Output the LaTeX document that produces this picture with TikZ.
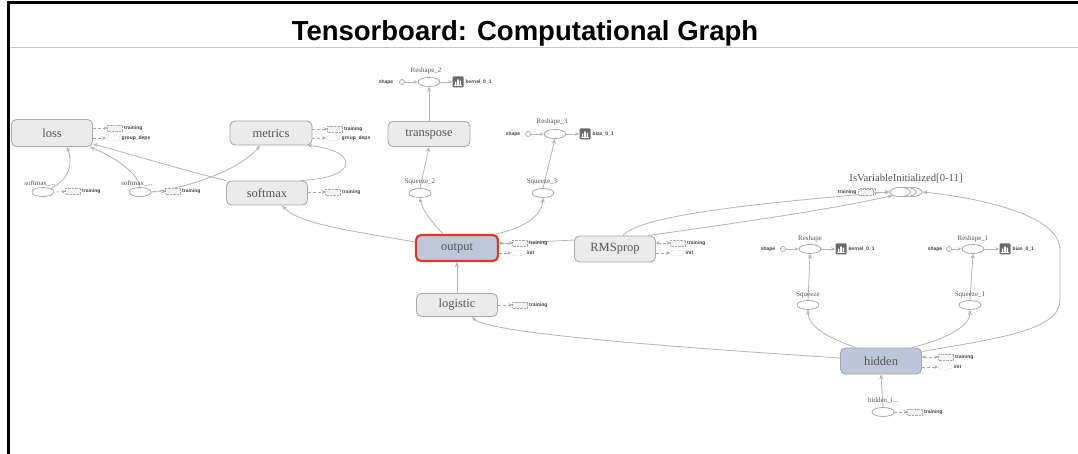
\documentclass[tikz,border=0pt]{standalone}
\usepackage{fontspec}
\setmainfont{Liberation Serif}
\newfontfamily\titlefont{Liberation Sans}
\newfontfamily\smallsans{Liberation Sans}
\usetikzlibrary{shapes.geometric,arrows.meta}
\pgfdeclarelayer{bg}
\pgfdeclarelayer{paper}
\pgfsetlayers{paper,bg,main}
\definecolor{nodefill}{HTML}{EBEBEB}
\definecolor{nodedraw}{HTML}{A9A9A9}
\definecolor{selfill}{HTML}{BFC7DB}
\definecolor{selred}{HTML}{E3372A}
\definecolor{hidfill}{HTML}{BFC6DB}
\definecolor{hiddraw}{HTML}{9CA3B5}
\definecolor{edgecol}{HTML}{B5B5B5}
\definecolor{textcol}{HTML}{555555}
\definecolor{iconcol}{HTML}{6A6A6A}
\begin{document}
\begin{tikzpicture}[x=1pt,y=-1pt,
  op/.style={draw=nodedraw, fill=nodefill, rounded corners=5pt, line width=0.9pt,
    minimum width=81pt, minimum height=25pt, inner sep=0pt, text=textcol,
    font=\fontsize{12.5}{13}\selectfont},
  sel/.style={fill=selfill, draw=selred, line width=2.2pt},
  hid/.style={fill=hidfill, draw=hiddraw},
  el/.style={ellipse, draw=nodedraw, fill=white, line width=0.8pt, minimum width=22pt, minimum height=9pt, inner sep=0pt},
  sc/.style={circle, draw=nodedraw, fill=white, line width=0.7pt, minimum size=5pt, inner sep=0pt},
  lab/.style={text=textcol, font=\fontsize{7}{7}\selectfont, inner sep=0.5pt},
  tinytxt/.style={text=black!75, font=\smallsans\bfseries\fontsize{5}{5}\selectfont, inner sep=0.5pt},
  dbox/.style={draw=nodedraw, densely dotted, fill=nodefill!60, minimum width=15pt, minimum height=6pt, inner sep=0pt},
  dell/.style={ellipse, draw=nodedraw, densely dotted, fill=white, minimum width=14pt, minimum height=6pt, inner sep=0pt},
  icon/.style={fill=iconcol, rounded corners=1pt, minimum size=11pt, inner sep=0pt,
    path picture={
      \fill[white] ([shift={(-3.2pt,-3.5pt)}]path picture bounding box.center) rectangle ++(1.6pt,4pt);
      \fill[white] ([shift={(-0.8pt,-3.5pt)}]path picture bounding box.center) rectangle ++(1.6pt,6.5pt);
      \fill[white] ([shift={(1.6pt,-3.5pt)}]path picture bounding box.center) rectangle ++(1.6pt,5pt);
      \draw[white, line width=0.5pt] ([shift={(-4pt,-3.7pt)}]path picture bounding box.center) -- ++(8pt,0pt);}},
  edge/.style={draw=edgecol, line width=0.8pt, -{Stealth[length=5pt,width=4pt]}},
  plain/.style={draw=edgecol, line width=0.8pt},
  aux/.style={draw=nodedraw, line width=0.5pt, densely dashed, -{Stealth[length=3.5pt,width=3.5pt]}},
  auxb/.style={draw=nodedraw, line width=0.5pt, densely dashed, {Stealth[length=3.5pt,width=3.5pt]}-{Stealth[length=3.5pt,width=3.5pt]}},
  small/.style={draw=edgecol, line width=0.7pt, -{Stealth[length=4pt,width=3.5pt]}}
]
\useasboundingbox (0,0) rectangle (1078,454);
\begin{pgfonlayer}{paper}
\fill[white] (0,0) rectangle (1078,454);
\end{pgfonlayer}
% frame
\draw[black, line width=3pt] (8,454) -- (8,3) -- (1078,3);
\draw[gray!45, line width=1pt] (9.5,48) -- (1078,48);
\node[font=\titlefont\bfseries\fontsize{27.5}{28}\selectfont] (title) at (525,33) {Tensorboard: Computational Graph};

% main operation nodes
\node[op, minimum height=27pt] (loss) at (52,133) {loss};
\node[op, minimum width=82pt, minimum height=24pt] (metrics) at (271,133) {metrics};
\node[op, minimum width=82pt] (transpose) at (429,134) {transpose};
\node[op, minimum height=24pt] (softmax) at (267,193) {softmax};
\node[op, sel, minimum width=82pt, minimum height=26pt] (output) at (457,248) {output};
\node[op, minimum height=26pt] (rmsprop) at (615,249) {RMSprop};
\node[op, minimum height=23pt] (logistic) at (457,305) {logistic};
\node[op, hid, minimum height=26pt] (hidden) at (881,361) {hidden};

% small ellipse ops
\node[el] (sm1) at (43,192) {};
\node[lab] (sm1l) at (40,183) {softmax\_...};
\node[el] (sm2) at (140,192) {};
\node[lab] (sm2l) at (137,183) {softmax\_...};
\node[el] (sq2) at (420,193) {};
\node[lab] (sq2l) at (420,182) {Squeeze\_2};
\node[el] (sq3) at (543,193) {};
\node[lab] (sq3l) at (542,182) {Squeeze\_3};
\node[el] (sq) at (808,305) {};
\node[lab] (sql) at (808,295) {Squeeze};
\node[el] (sq1) at (970,305) {};
\node[lab] (sq1l) at (970,295) {Squeeze\_1};
\node[el] (hi) at (883,412) {};
\node[lab] (hil) at (883,401) {hidden\_i...};

% Reshape_2
\node[el] (r2e) at (429,82) {};
\node[lab] (r2l) at (426,71) {Reshape\_2};
\node[tinytxt] (r2s) at (386,82) {shape};
\node[sc] (r2c) at (402,82) {};
\node[icon] (r2i) at (458,82) {};
\node[tinytxt, anchor=west] (r2k) at (465,82) {kernel\_0\_1};
% Reshape_3
\node[el] (r3e) at (555,134) {};
\node[lab] (r3l) at (552,122) {Reshape\_3};
\node[tinytxt] (r3s) at (513,134) {shape};
\node[sc] (r3c) at (528,134) {};
\node[icon] (r3i) at (585,134) {};
\node[tinytxt, anchor=west] (r3k) at (592,134) {bias\_0\_1};
% Reshape
\node[el] (rs) at (810,249) {};
\node[lab] (rsl) at (810,239) {Reshape};
\node[tinytxt] (rss) at (768,249) {shape};
\node[sc] (rsc) at (783,249) {};
\node[icon] (rsi) at (841,249) {};
\node[tinytxt, anchor=west] (rsk) at (848,249) {kernel\_0\_1};
% Reshape_1
\node[el] (rs1) at (973,249) {};
\node[lab] (rs1l) at (973,239) {Reshape\_1};
\node[tinytxt] (rs1s) at (935,249) {shape};
\node[sc] (rs1c) at (949,249) {};
\node[icon] (rs1i) at (1005,249) {};
\node[tinytxt, anchor=west] (rs1k) at (1012,249) {bias\_0\_1};

% IsVariableInitialized
\node[el, minimum width=20pt] (isv3) at (912,192) {};
\node[el, minimum width=20pt] (isv2) at (906,192) {};
\node[el, minimum width=20pt] (isv) at (900,192) {};
\node[lab, font=\fontsize{10.7}{11}\selectfont] (isvl) at (906,179) {IsVariableInitialized[0-11]};
\node[dbox] (isvb2) at (868,191) {};
\node[dbox] (isvb) at (866,192) {};
\node[tinytxt, anchor=east] (isvt) at (857,192) {training};

% annotations
\node[dbox] (lossb1) at (115,128) {};
\node[tinytxt, anchor=west] (losst1) at (123.5,128) {training};
\node[dell] (lossb2) at (113,138) {};
\node[tinytxt, anchor=west] (losst2) at (121,138) {group\_deps};
\node[dbox] (metb1) at (335,129) {};
\node[tinytxt, anchor=west] (mett1) at (343.5,129) {training};
\node[dell] (metb2) at (333,138) {};
\node[tinytxt, anchor=west] (mett2) at (341,138) {group\_deps};
\node[dbox] (smb) at (333,192) {};
\node[tinytxt, anchor=west] (smt) at (341.5,192) {training};
\node[dbox] (sm1b) at (73,191) {};
\node[tinytxt, anchor=west] (sm1t) at (81.5,191) {training};
\node[dbox] (sm2b) at (173,191) {};
\node[tinytxt, anchor=west] (sm2t) at (181.5,191) {training};
\node[dbox] (outb1) at (520,243) {};
\node[tinytxt, anchor=west] (outt1) at (528.5,243) {training};
\node[dell] (outb2) at (518,253) {};
\node[tinytxt, anchor=west] (outt2) at (526,253) {init};
\node[dbox] (rmsb1) at (678,243) {};
\node[tinytxt, anchor=west] (rmst1) at (686.5,243) {training};
\node[dell] (rmsb2) at (677,253) {};
\node[tinytxt, anchor=west] (rmst2) at (685,253) {init};
\node[dbox] (logb) at (520,305) {};
\node[tinytxt, anchor=west] (logt) at (528.5,305) {training};
\node[dbox] (hidb1) at (946,357) {};
\node[tinytxt, anchor=west] (hidt1) at (954.5,357) {training};
\node[dell] (hidb2) at (945,367) {};
\node[tinytxt, anchor=west] (hidt2) at (953,367) {init};
\node[dbox] (hib) at (915,412) {};
\node[tinytxt, anchor=west] (hit) at (923.5,412) {training};

\draw[aux] ([yshift=5pt]loss.east) -- (lossb1);
\draw[aux] ([yshift=-5pt]loss.east) -- (lossb2);
\draw[aux] ([yshift=4pt]metrics.east) -- (metb1);
\draw[aux] ([yshift=-5pt]metrics.east) -- (metb2);
\draw[aux] ([yshift=1pt]softmax.east) -- (smb);
\draw[aux] ([xshift=2pt]sm1.east) -- (sm1b);
\draw[aux] ([xshift=2pt]sm2.east) -- (sm2b);
\draw[auxb] ([yshift=5pt]output.east) -- (outb1);
\draw[aux] ([yshift=-5pt]output.east) -- (outb2);
\draw[auxb] ([yshift=6pt]rmsprop.east) -- (rmsb1);
\draw[aux] ([yshift=-4pt]rmsprop.east) -- (rmsb2);
\draw[aux] (logistic.east) -- (logb);
\draw[auxb] ([yshift=4pt]hidden.east) -- (hidb1);
\draw[aux] ([yshift=-6pt]hidden.east) -- (hidb2);
\draw[aux] (hi.east) -- (hib);
\draw[small] (isvb) -- (isv);
\draw[small] (r2c) -- (r2e);
\draw[small] (r2e) -- (r2i);
\draw[small] (r3c) -- (r3e);
\draw[small] (r3e) -- (r3i);
\draw[small] (rsc) -- (rs);
\draw[small] (rs) -- (rsi);
\draw[small] (rs1c) -- (rs1);
\draw[small] (rs1) -- (rs1i);

% graph edges
\begin{pgfonlayer}{bg}
\draw[edge] (sm1.north east) .. controls (72,178) and (72,160) .. ([xshift=15pt]loss.south);
\draw[edge] (sm2.north) .. controls (138,172) and (112,156) .. ([xshift=-3pt]loss.south east);
\draw[edge] (sm2.east) .. controls (200,186) and (245,165) .. ([xshift=-11pt]metrics.south);
\draw[edge] (softmax.north west) .. controls (190,172) and (140,157) .. ([yshift=3pt]loss.south east);
\draw[edge] ([xshift=-8pt]softmax.north east) .. controls (362,178) and (357,150) .. ([xshift=-5pt]metrics.south east);
\draw[edge] ([yshift=6pt]output.west) .. controls (360,232) and (300,225) .. ([xshift=15pt]softmax.south);
\draw[edge] ([xshift=-14pt]output.north) .. controls (432,222) and (422,210) .. (sq2.south);
\draw[edge] (sq2.north) -- (transpose.south);
\draw[edge] (transpose.north) -- (r2e.south);
\draw[edge] ([xshift=-3pt]output.north east) .. controls (525,228) and (542,215) .. (sq3.south);
\draw[edge] (sq3.north) -- (r3e.south);
\draw[plain] ([yshift=4pt]output.east) -- ([yshift=9pt]rmsprop.west);
\draw[edge] ([xshift=8pt]rmsprop.north) .. controls (640,215) and (760,203) .. (isv.west);
\draw[edge] ([xshift=-8pt]rmsprop.north east) .. controls (700,228) and (820,212) .. (isv.south west);
\draw[edge] ([yshift=-4pt]hidden.north east) .. controls (1000,338) and (1060,330) .. (1060,300) -- (1060,250) .. controls (1060,215) and (980,198) .. (isv3.east);
\draw[edge] ([xshift=-25pt]hidden.north) .. controls (825,337) and (808,325) .. (sq.south);
\draw[edge] (sq.north) -- (rs.south);
\draw[edge] ([xshift=-10pt]hidden.north east) .. controls (950,338) and (970,325) .. (sq1.south);
\draw[edge] (sq1.north) -- (rs1.south);
\draw[edge] ([yshift=3pt]hidden.west) .. controls (720,350) and (490,335) .. ([xshift=15pt]logistic.south);
\draw[edge] (logistic.north) -- (output.south);
\draw[edge] (hi.north) -- (hidden.south);
\end{pgfonlayer}
\end{tikzpicture}
\end{document}
